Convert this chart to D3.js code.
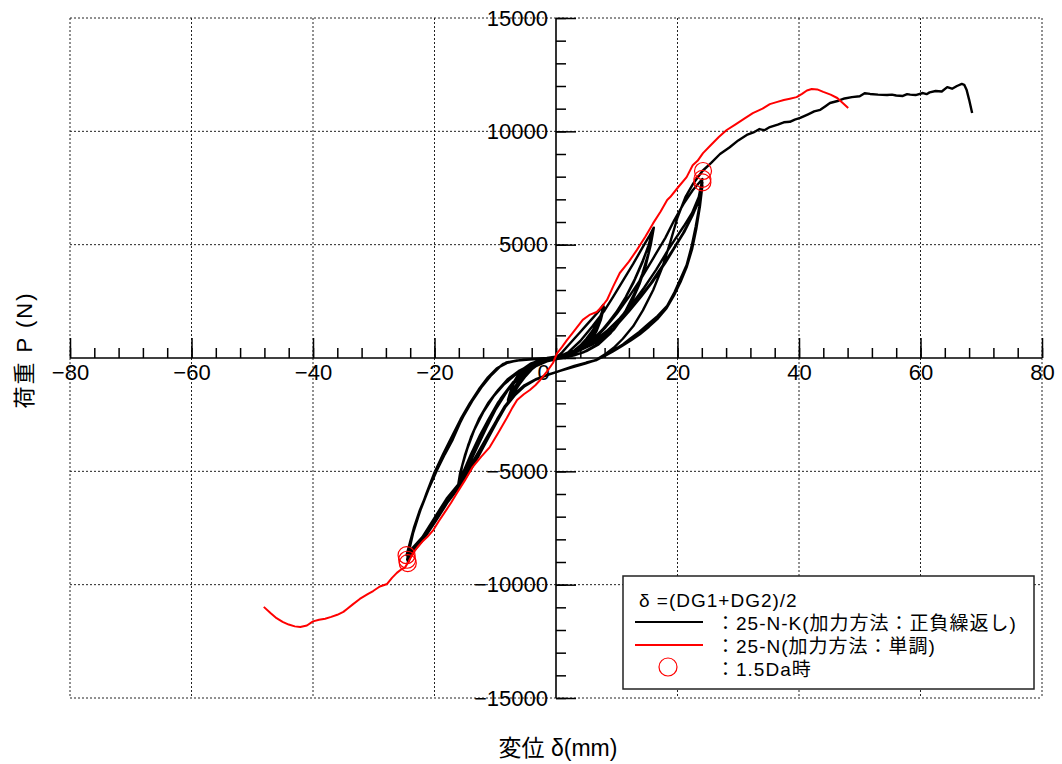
<!DOCTYPE html>
<html>
<head>
<meta charset="utf-8">
<script src="https://cdn.jsdelivr.net/npm/d3@7"></script>
<style>
  body { margin: 0; background: #fff; }
  text { font-family: "Liberation Sans", Arial, "Noto Sans CJK JP", sans-serif; }
</style>
</head>
<body>
<div id="chart"></div>
<script>
// Tick values and labels
const xMajorTicks = [-80, -60, -40, -20, 0, 20, 40, 60, 80];
const yMajorTicks = [-15000, -10000, -5000, 0, 5000, 10000, 15000];
const yLabelTicks = [-15000, -10000, -5000, 5000, 10000, 15000];
const xTitle = '変位 δ(mm)';
const yTitle = '荷重 P (N)';
const legendHeader = 'δ =(DG1+DG2)/2';
const legendLabels = ['：25-N-K(加力方法：正負繰返し)', '：25-N(加力方法：単調)', '：1.5Da時'];

// Monotonic test 25-N  [delta (mm), P (N)]
const monotonic = [
  [-48.1,-10980],[-47,-11250],[-46,-11480],[-45,-11640],[-44,-11760],[-43,-11840],[-42.1,-11870],
  [-41,-11800],[-40,-11620],[-39,-11550],[-38,-11500],[-37,-11420],[-36,-11330],[-35,-11200],
  [-34.4,-11070],[-33.5,-10880],[-32.3,-10630],[-31,-10420],[-30.1,-10280],[-29,-10080],[-27.8,-9970],
  [-27,-9700],[-26.2,-9480],[-25.5,-9330],[-24.9,-9260],[-24.3,-9000],[-23.5,-8600],[-22.8,-8350],
  [-22,-8100],[-21.2,-7900],[-20.2,-7590],[-19.3,-7200],[-18.3,-6800],[-17.3,-6400],[-16.3,-5960],
  [-15,-5400],[-13.7,-4800],[-12.3,-4350],[-10.9,-3930],[-9.5,-3300],[-8.1,-2650],[-7.2,-2200],
  [-6.4,-1850],[-5.3,-1600],[-4.3,-1410],[-3.4,-1200],[-2.6,-970],[-1.5,-600],[-0.5,-220],[0.2,220],
  [1,490],[1.8,790],[3,1200],[4.4,1680],[5.5,1900],[6.7,2030],[7.5,2250],[8.4,2560],[9.4,3150],
  [10.5,3750],[12,4250],[13.3,4760],[14.7,5350],[16,5950],[17.2,6450],[18.3,6970],[18.8,7100],
  [20,7500],[21.5,7980],[22.5,8500],[23.3,8700],[24.2,9040],[25.5,9400],[26.8,9750],[28.1,10060],
  [29.5,10300],[31,10560],[32.4,10800],[34,11000],[35.2,11200],[36.3,11290],[37.5,11380],[38.5,11440],
  [39.6,11510],[40.5,11650],[41.3,11800],[42.1,11870],[43,11850],[44,11740],[45.2,11620],[46.3,11470],
  [47.2,11250],[48.1,11030]
];

// Cyclic test 25-N-K, split by amplitude stage
const smallCycles = [
  [0,0],[1,250],[2,550],[3,850],[4,1150],[5,1450],[6,1750],[7,2050],[7.8,2350],
  [7.4,1800],[6.8,1300],[6,900],[5,600],[4,400],[3,250],[2,150],[1,80],[0,0],[-1,-60],[-2,-150],
  [-3,-300],[-4,-500],[-5,-800],[-6,-1150],[-7,-1550],[-7.9,-2000],
  [-7.5,-1500],[-6.8,-1000],[-6,-650],[-5,-400],[-4,-250],[-3,-150],[-2,-80],[-1,-30],[0,20],[1,80],
  [2,180],[3,330],[4,550],[5,850],[6,1200],[7,1650],[7.9,2250],
  [7.4,1700],[6.7,1200],[5.8,800],[4.8,500],[3.5,280],[2,130],[0.5,30],[-1,-40],[-2.5,-200],
  [-4,-450],[-5.3,-800],[-6.5,-1250],[-7.9,-1900],
  [-7.4,-1400],[-6.6,-900],[-5.5,-500],[-4.2,-250],[-2.8,-120],[-1.2,-40],[0.5,40],[2,150],[3.5,350],
  [5,700],[6.3,1150],[7.2,1600],[7.9,2200],
  [7.3,1650],[6.5,1150],[5.5,750],[4.3,450],[3,250],[1.5,100],[0,0],[-1.5,-100],[-3,-280],
  [-4.5,-550],[-5.8,-900],[-7,-1350],[-7.9,-1850]
];

const midCycles = [
  [-7.3,-1300],[-6.3,-800],[-5,-450],[-3.5,-220],[-2,-90],[0,0],[2,250],[4,750],[6,1400],[8,2100],
  [9.4,2700],[11,3400],[12.7,4150],[14.3,4900],[15.3,5350],[16.1,5750],
  [15.6,5000],[14.8,4100],[13.8,3300],[12.5,2500],[11,1800],[9.5,1250],[8,850],[6,450],[4,200],
  [2,50],[0,-50],[-2,-150],[-4,-350],[-6,-750],[-8,-1450],[-10,-2300],[-11.5,-3100],[-13,-3950],
  [-14.5,-4800],[-15.5,-5300],[-16.2,-5750],
  [-15.8,-5100],[-15,-4300],[-14,-3500],[-12.7,-2700],[-11.2,-2000],[-9.5,-1400],[-8,-950],[-6,-550],
  [-4,-280],[-2,-100],[0,20],[2,150],[4,400],[6,800],[8,1350],[10,2050],[11.5,2700],[13,3500],
  [14.3,4300],[15.3,5000],[15.9,5600],
  [15.4,4800],[14.5,3900],[13.4,3100],[12,2300],[10.5,1650],[9,1100],[7,600],[5,300],[3,120],[1,0],
  [-1,-100],[-3,-280],[-5,-600],[-7,-1050],[-9,-1750],[-11,-2650],[-12.5,-3400],[-14,-4250],
  [-15.2,-5000],[-16,-5600],
  [-15.5,-4800],[-14.6,-4000],[-13.5,-3200],[-12,-2400],[-10.3,-1700],[-8.5,-1150],[-6.5,-700],
  [-4.5,-380],[-2.5,-180],[-0.5,-40],[1.5,100],[3.5,330],[5.5,700],[7.5,1200],[9.5,1850],[11.2,2550],
  [12.8,3350],[14.2,4200],[15.2,4950],[15.8,5500],
  [15.2,4600],[14.2,3700],[13,2900],[11.5,2100],[10,1500],[8.5,1000],[6.5,550],[4.5,250],[2.5,80],
  [0.5,-30],[-1.5,-150],[-3.5,-380],[-5.5,-750],[-7.5,-1250],[-9.5,-1950],[-11.3,-2800],[-12.8,-3600],
  [-14.2,-4400],[-15.3,-5050],[-16,-5500],
  [-15.4,-4700],[-14.4,-3800],[-13.2,-3000],[-11.6,-2200],[-9.8,-1500],[-8,-1000],[-6,-600],
  [-4,-320],[-2,-150],[0,-30],[2,100]
];

const largeCycles = [
  [4,350],[6,750],[8,1300],[10,1950],[12,2700],[14,3500],[16,4400],[18,5300],[19.5,6100],[21,6800],
  [22.5,7400],[24.1,7900],
  [23.5,7100],[22.4,6400],[21,5800],[19.5,5200],[18.3,4700],[16.5,3900],[14.5,3100],[12.7,2450],
  [10.5,1750],[8.4,1200],[6.5,800],[4.5,480],[2.5,250],[0.5,80],[-1.5,0],[-3.5,-40],[-5.5,-80],
  [-7,-150],[-8.7,-260],[-10,-550],[-11.4,-970],[-12.8,-1450],[-14.2,-2000],[-15.6,-2750],[-17,-3600],
  [-18.3,-4250],[-19.6,-4950],[-21,-5800],[-22.4,-6700],[-23.4,-7500],[-24,-8100],[-24.6,-8700],
  [-24,-8500],[-22,-7900],[-20,-7050],[-18,-6200],[-16,-5550],[-14.5,-4950],[-13,-4250],
  [-11.5,-3550],[-10,-2850],[-8.5,-2150],[-7,-1650],[-5.5,-1300],[-3.5,-980],[-1.5,-760],
  [0.5,-580],[3,-350],[5,-200],[6.7,-90],[8,100],[9.5,350],[11,600],[12.2,850],[13.7,1150],
  [15.2,1500],[16.7,1850],[18.3,2300],[19.5,2900],[20.5,3500],[21.5,4100],[22.3,4900],[23,5800],
  [23.6,6700],[24.1,7750],
  [23.6,7000],[22.5,6300],[21.2,5600],[19.6,4900],[18,4200],[16,3400],[14,2700],[12,2050],[10,1450],
  [8,950],[6,600],[4,350],[2,170],[0,50],[-2,-30],[-4,-60],[-6,-100],[-7.8,-180],[-9.3,-400],
  [-10.8,-800],[-12.3,-1300],[-13.8,-1900],[-15.3,-2600],[-16.8,-3400],[-18.2,-4150],[-19.6,-4900],
  [-21,-5800],[-22.3,-6700],[-23.3,-7500],[-24,-8200],[-24.5,-8900],
  [-23.8,-8550],[-21.8,-7950],[-19.8,-7100],[-17.8,-6250],[-15.8,-5550],[-14.2,-4900],[-12.7,-4200],
  [-11.2,-3450],[-9.7,-2700],[-8.2,-2050],[-6.7,-1550],[-5.2,-1200],[-3.2,-920],[-1.2,-730],
  [0.8,-560],[2.8,-400],[4.8,-250],[6.3,-120],[7.8,60],[9.3,280],[10.8,520],[12.3,770],
  [13.8,1050],[15.3,1380],[16.8,1750],[18.2,2200],[19.4,2750],[20.5,3350],[21.5,4000],[22.4,4800],
  [23.1,5700],[23.7,6700],[24.1,7600],
  [23.5,6900],[22.3,6200],[20.9,5500],[19.3,4800],[17.6,4100],[15.6,3300],[13.6,2600],[11.6,1950],
  [9.6,1350],[7.6,900],[5.6,550],[3.6,320],[1.6,150],[-0.4,30],[-2.4,-40],[-4.4,-70],[-6.4,-110],
  [-8.2,-200],[-9.7,-450],[-11.2,-850],[-12.7,-1380],[-14.2,-2000],[-15.7,-2700],[-17.2,-3500],
  [-18.6,-4250],[-20,-5050],[-21.3,-5950],[-22.5,-6850],[-23.5,-7700],[-24.1,-8400],[-24.4,-9050]
];

const finalPush = [
  [-23.8,-8650],[-21.8,-8000],[-19.8,-7200],[-17.8,-6350],[-15.8,-5650],[-14.2,-5000],[-12.8,-4350],
  [-11.3,-3600],[-9.8,-2850],[-8.3,-2150],[-6.8,-1650],[-5.2,-1250],[-3.2,-930],
  [-1.2,-720],[0.8,-560],[2.8,-400],[4.8,-240],[6.5,-100],[8,150],[9.5,450],[11,850],[12.7,1400],
  [14.3,2100],[16,3000],[17.5,4000],[18.8,5100],[20,6200],[21.3,7100],[22.6,7700],[24.1,8250],
  [25.5,8600],[27,9000],[28.6,9300],[30,9600],[31.4,9840],[32.5,9950],[33.5,10100],[34.3,10050],
  [35.2,10190],[36.5,10300],[37.5,10400],[38.5,10420],[39.3,10520],[40.2,10590],[41.5,10750],
  [42.5,10880],[43.5,10950],[44.3,11100],[45.1,11250],[46.5,11350],[47.5,11450],[48.7,11510],
  [50,11550],[50.8,11680],[51.7,11650],[53,11620],[54.5,11600],[55.3,11620],[56,11580],[57.1,11560],
  [57.8,11640],[58.3,11620],[59.2,11600],[60.4,11690],[61,11640],[61.5,11720],[62.5,11780],
  [63.5,11760],[64.4,11950],[65.2,11880],[66,12000],[66.8,12090],[67.2,12050],[67.6,11820],
  [68,11400],[68.5,10810]
];

// 1.5Da markers
const markerX = [24.2, 24.1, 24.1, -24.6, -24.5, -24.4];
const markerP = [8250, 7900, 7750, -8700, -8900, -9050];

// Layout
const W = 1062, H = 764;
const plot = {left: 70, right: 1042, top: 18, bottom: 698};

const svg = d3.select('#chart')
  .append('svg')
  .attr('width', W)
  .attr('height', H);

const x = d3.scaleLinear().domain([-80, 80]).range([plot.left, plot.right]);
const y = d3.scaleLinear().domain([-15000, 15000]).range([plot.bottom, plot.top]);
const fmt = v => (v < 0 ? '\u2212' + Math.abs(v) : String(v));

// Dotted grid and frame
const grid = svg.append('g')
  .attr('stroke', '#222')
  .attr('stroke-width', 1)
  .attr('stroke-dasharray', '2,2');

grid.selectAll('.vgrid')
  .data(xMajorTicks.filter(d => d !== 0))
  .enter().append('line')
  .attr('x1', d => x(d)).attr('x2', d => x(d))
  .attr('y1', plot.top).attr('y2', plot.bottom);

grid.selectAll('.hgrid')
  .data(yMajorTicks.filter(d => d !== 0))
  .enter().append('line')
  .attr('x1', plot.left).attr('x2', plot.right)
  .attr('y1', d => y(d)).attr('y2', d => y(d));

// Axes through the origin
const x0 = x(0), y0 = y(0);

svg.append('g')
  .attr('transform', `translate(0,${y0})`)
  .call(d3.axisTop(x).tickValues(d3.range(-80, 81, 4)).tickSize(10).tickSizeOuter(0).tickFormat(''))
  .call(g => g.select('.domain').remove());

svg.append('g')
  .attr('transform', `translate(0,${y0})`)
  .call(d3.axisTop(x).tickValues(xMajorTicks).tickSize(20).tickSizeOuter(0).tickFormat(''))
  .call(g => g.select('.domain').remove());

svg.append('g')
  .attr('transform', `translate(${x0},0)`)
  .call(d3.axisRight(y).tickValues(d3.range(-15000, 15001, 1000)).tickSize(10).tickSizeOuter(0).tickFormat(''))
  .call(g => g.select('.domain').remove());

svg.append('g')
  .attr('transform', `translate(${x0},0)`)
  .call(d3.axisRight(y).tickValues(yMajorTicks).tickSize(20).tickSizeOuter(0).tickFormat(''))
  .call(g => g.select('.domain').remove());

svg.selectAll('.tick line').attr('stroke', '#000').attr('stroke-width', 1.5);

svg.append('line')
  .attr('x1', plot.left).attr('x2', plot.right)
  .attr('y1', y0).attr('y2', y0)
  .attr('stroke', '#000').attr('stroke-width', 1.6);

svg.append('line')
  .attr('x1', x0).attr('x2', x0)
  .attr('y1', plot.top).attr('y2', plot.bottom)
  .attr('stroke', '#000').attr('stroke-width', 1.6);

// Tick labels
const xLab = svg.append('g')
  .attr('transform', `translate(0,${y0})`)
  .call(d3.axisBottom(x).tickValues(xMajorTicks).tickSize(0).tickPadding(6).tickFormat(fmt))
  .call(g => g.select('.domain').remove());
xLab.selectAll('text')
  .attr('font-size', 22)
  .attr('fill', '#000')
  .attr('font-family', '"Liberation Sans", Arial, sans-serif')
  .attr('dx', d => (d === 0 ? -13 : 0));

const yLab = svg.append('g')
  .attr('transform', `translate(${x0},0)`)
  .call(d3.axisLeft(y).tickValues(yLabelTicks).tickSize(0).tickPadding(8).tickFormat(fmt))
  .call(g => g.select('.domain').remove());
yLab.selectAll('text')
  .attr('font-size', 22)
  .attr('fill', '#000')
  .attr('font-family', '"Liberation Sans", Arial, sans-serif');

// Axis titles
svg.append('text')
  .attr('x', 558).attr('y', 756)
  .attr('text-anchor', 'middle')
  .attr('font-size', 23)
  .attr('font-family', '"Noto Sans CJK JP", sans-serif')
  .text(xTitle);

svg.append('text')
  .attr('transform', 'translate(32,350) rotate(-90)')
  .attr('text-anchor', 'middle')
  .attr('font-size', 22)
  .attr('letter-spacing', 2)
  .attr('font-family', '"Noto Sans CJK JP", sans-serif')
  .text(yTitle);

// Curves
const line = d3.line()
  .x(d => x(d[0]))
  .y(d => y(d[1]));

const cyclic = [].concat(smallCycles, midCycles, largeCycles, finalPush);

svg.append('path')
  .attr('d', line(cyclic))
  .attr('fill', 'none')
  .attr('stroke', '#000')
  .attr('stroke-width', 2.4)
  .attr('stroke-linejoin', 'round');

svg.append('path')
  .attr('d', line(monotonic))
  .attr('fill', 'none')
  .attr('stroke', '#ff0000')
  .attr('stroke-width', 2)
  .attr('stroke-linejoin', 'round');

svg.selectAll('.marker')
  .data(d3.zip(markerX, markerP))
  .enter().append('circle')
  .attr('cx', d => x(d[0]))
  .attr('cy', d => y(d[1]))
  .attr('r', 8.5)
  .attr('fill', 'none')
  .attr('stroke', '#ff0000')
  .attr('stroke-width', 1.2);

// Legend
const lg = svg.append('g');
lg.append('rect')
  .attr('x', 623).attr('y', 576)
  .attr('width', 411).attr('height', 113)
  .attr('fill', '#fff')
  .attr('stroke', '#222')
  .attr('stroke-width', 1.5);

lg.append('text')
  .attr('x', 639).attr('y', 607)
  .attr('font-size', 19)
  .attr('letter-spacing', 1)
  .text(legendHeader);

lg.append('line')
  .attr('x1', 635).attr('x2', 703).attr('y1', 622).attr('y2', 622)
  .attr('stroke', '#000').attr('stroke-width', 2);
lg.append('line')
  .attr('x1', 635).attr('x2', 703).attr('y1', 645).attr('y2', 645)
  .attr('stroke', '#ff0000').attr('stroke-width', 2);
lg.append('circle')
  .attr('cx', 668).attr('cy', 667).attr('r', 9)
  .attr('fill', 'none').attr('stroke', '#ff0000').attr('stroke-width', 1.2);

lg.selectAll('.lgtext')
  .data(legendLabels)
  .enter().append('text')
  .attr('x', 716)
  .attr('y', (d, i) => 630 + i * 23)
  .attr('font-size', 19)
  .attr('letter-spacing', 1)
  .text(d => d);
</script>
</body>
</html>
